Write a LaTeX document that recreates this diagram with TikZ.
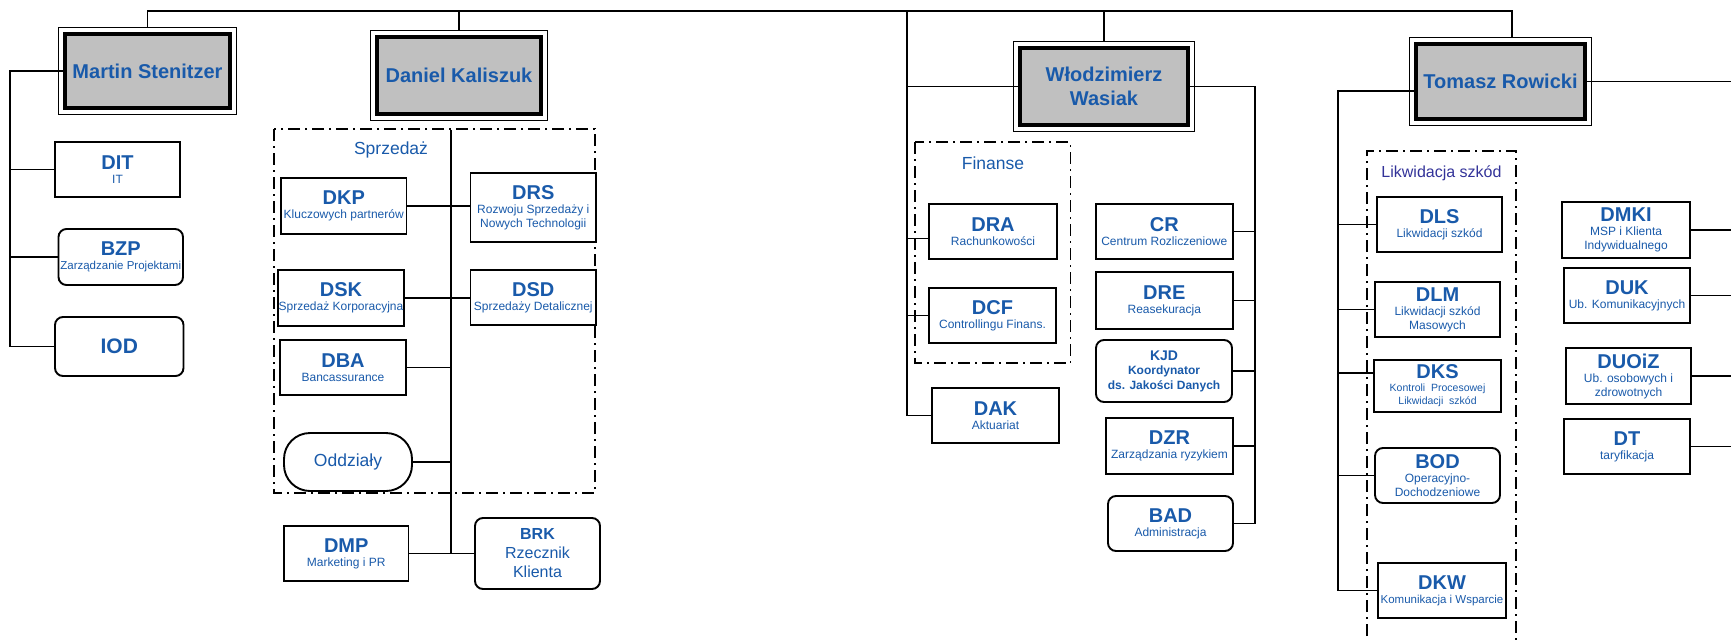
\documentclass[tikz,border=0pt]{standalone}
\usepackage{fontspec}
\setmainfont{Liberation Sans}
\definecolor{DeptBlue}{RGB}{25, 90, 170}
\definecolor{GroupPurple}{RGB}{51, 51, 153}
\definecolor{BossGray}{RGB}{192, 192, 192}
\newcommand{\FrameGap}{4.5pt}
\newcommand{\BossFont}{\fontsize{20}{24}\selectfont\bfseries}
\newcommand{\AbbrFont}{\fontsize{20}{24}\selectfont\bfseries}
\newcommand{\DescFont}{\fontsize{12}{14}\selectfont}
\newcommand{\SmallDesc}{\fontsize{11.5}{14}\selectfont}
\newcommand{\GroupFont}{\fontsize{17.5}{21}\selectfont}
\newcommand{\Dept}[2]{{\AbbrFont #1}\\#2}

\begin{document}
\begin{tikzpicture}[x=1pt, y=-1pt]
  \tikzstyle{boss}=[draw, line width=3.8pt, fill=BossGray, text=DeptBlue, font=\BossFont, align=center, inner sep=0pt]
  \tikzstyle{frame}=[line width=1.3pt]
  \tikzstyle{dept}=[draw, line width=1.9pt, fill=white, text=DeptBlue, font=\DescFont, align=center, inner sep=0pt]
  \tikzstyle{soft}=[dept, rounded corners=8pt]
  \tikzstyle{pill}=[dept, rounded corners=26pt]
  \tikzstyle{link}=[line width=1.8pt]
  \tikzstyle{group}=[line width=1.5pt, dash pattern=on 12pt off 5pt on 2pt off 5pt]
  \tikzstyle{grouplabel}=[text=DeptBlue, font=\GroupFont, inner sep=0pt]
  \useasboundingbox (0,0) rectangle (1731,640);
  \clip (0,0) rectangle (1731,640);

  % Groups
  \draw[group] (274,129) rectangle (595,493);
  \draw[group] (915,142) rectangle (1070.5,363);
  \draw[group] (1367,660) -- (1367,151) -- (1516,151) -- (1516,660);
  \node[grouplabel] (sprzedaz) at (391,149.5) {Sprzedaż};
  \node[grouplabel] (finanse) at (993,163) {Finanse};
  \node[grouplabel, text=GroupPurple, font=\fontsize{16}{19}\selectfont] (likwidacja) at (1441.5,173) {Likwidacja szkód};

  % Board
  \node[boss, minimum width=165pt, minimum height=74pt] (stenitzer) at (147.5,71) {Martin Stenitzer};
  \node[boss, minimum width=164pt, minimum height=77pt] (kaliszuk) at (459,75.5) {Daniel Kaliszuk};
  \node[boss, minimum width=168pt, minimum height=77pt] (wasiak) at (1104,86.5) {Włodzimierz\\Wasiak};
  \node[boss, minimum width=169pt, minimum height=75pt] (rowicki) at (1500.5,81.5) {Tomasz Rowicki};
  \foreach \b in {stenitzer,kaliszuk,wasiak,rowicki}
    \draw[frame] ([shift={(-\FrameGap,\FrameGap)}]\b.north west) rectangle ([shift={(\FrameGap,-\FrameGap)}]\b.south east);

  % Martin Stenitzer
  \node[dept, minimum width=125pt, minimum height=55pt] (dit) at (117.5,169.5) {\Dept{DIT}{IT}};
  \node[soft, minimum width=124.5pt, minimum height=56pt] (bzp) at (120.75,257) {\Dept{BZP}{\SmallDesc Zarządzanie Projektami}};
  \node[soft, minimum width=128.5pt, minimum height=59pt, font=\fontsize{21}{24}\selectfont\bfseries] (iod) at (119.25,346.5) {IOD};

  % Daniel Kaliszuk
  \node[dept, minimum width=125.5pt, minimum height=56pt] (dkp) at (343.75,206) {\Dept{DKP}{Kluczowych partnerów}};
  \node[dept, minimum width=125.5pt, minimum height=69pt] (drs) at (533.25,207.5) {\Dept{DRS}{Rozwoju Sprzedaży i\\Nowych Technologii}};
  \node[dept, minimum width=126pt, minimum height=56pt] (dsk) at (341,298) {\Dept{DSK}{Sprzedaż Korporacyjna}};
  \node[dept, minimum width=125.5pt, minimum height=55pt] (dsd) at (533.25,297.5) {\Dept{DSD}{Sprzedaży Detalicznej}};
  \node[dept, minimum width=126pt, minimum height=55pt] (dba) at (343,367.5) {\Dept{DBA}{Bancassurance}};
  \node[pill, minimum width=128pt, minimum height=58pt, font=\GroupFont] (oddzialy) at (348,462) {Oddziały};
  \node[dept, minimum width=124.5pt, minimum height=55pt] (dmp) at (346.25,553.5) {\Dept{DMP}{Marketing i PR}};
  \node[soft, minimum width=125pt, minimum height=71pt, font=\fontsize{16}{19}\selectfont] (brk) at (537.5,553.5) {{\bfseries BRK}\\Rzecznik\\Klienta};

  % Wlodzimierz Wasiak
  \node[dept, minimum width=128pt, minimum height=55pt] (dra) at (993,231.5) {\Dept{DRA}{Rachunkowości}};
  \node[dept, minimum width=127pt, minimum height=55pt] (dcf) at (992.5,315.5) {\Dept{DCF}{Controllingu Finans.}};
  \node[dept, minimum width=127pt, minimum height=55pt] (dak) at (995.5,415.5) {\Dept{DAK}{Aktuariat}};
  \node[dept, minimum width=136.5pt, minimum height=55pt] (cr) at (1164.3,231.5) {\Dept{CR}{Centrum Rozliczeniowe}};
  \node[dept, minimum width=136.5pt, minimum height=57pt] (dre) at (1164.3,300.5) {\Dept{DRE}{Reasekuracja}};
  \node[soft, minimum width=136pt, minimum height=62pt, font=\fontsize{12}{14.5}\selectfont\bfseries] (kjd) at (1164,371) {{\fontsize{14}{16}\selectfont KJD}\\Koordynator\\ds. Jakości Danych};
  \node[dept, minimum width=127pt, minimum height=56pt] (dzr) at (1169.5,446) {\Dept{DZR}{Zarządzania ryzykiem}};
  \node[soft, minimum width=125pt, minimum height=55pt] (bad) at (1170.5,523.5) {\Dept{BAD}{Administracja}};

  % Tomasz Rowicki
  \node[dept, minimum width=125pt, minimum height=55pt] (dls) at (1439.5,224.5) {\Dept{DLS}{Likwidacji szkód}};
  \node[dept, minimum width=125pt, minimum height=55pt] (dlm) at (1437.5,309.5) {\Dept{DLM}{Likwidacji szkód\\Masowych}};
  \node[dept, minimum width=127pt, minimum height=52pt, font=\fontsize{10.5}{13}\selectfont] (dks) at (1437.5,386) {\Dept{DKS}{Kontroli~ Procesowej\\Likwidacji~ szkód}};
  \node[soft, minimum width=125pt, minimum height=55pt] (bod) at (1437.5,475.5) {\Dept{BOD}{Operacyjno-\\Dochodzeniowe}};
  \node[dept, minimum width=128pt, minimum height=55pt] (dkw) at (1442,590.5) {\Dept{DKW}{\SmallDesc Komunikacja i Wsparcie}};
  \node[dept, minimum width=128pt, minimum height=56pt] (dmki) at (1626,230) {\Dept{DMKI}{MSP i Klienta\\Indywidualnego}};
  \node[dept, minimum width=126pt, minimum height=55pt] (duk) at (1627,295.5) {\Dept{DUK}{Ub. Komunikacyjnych}};
  \node[dept, minimum width=125pt, minimum height=56pt] (duoiz) at (1628.5,376) {\Dept{DUOiZ}{Ub. osobowych i\\zdrowotnych}};
  \node[dept, minimum width=126pt, minimum height=55pt] (dt) at (1627,446.5) {\Dept{DT}{taryfikacja}};

  % Top line
  \coordinate (top) at (0,11);
  \draw[link] ([yshift=\FrameGap]stenitzer.north) -- (stenitzer.north |- top) -| ([xshift=11.5pt,yshift=\FrameGap]rowicki.north);
  \draw[link] ([yshift=\FrameGap]kaliszuk.north) -- (kaliszuk.north |- top);
  \draw[link] ([yshift=\FrameGap]wasiak.north) -- (wasiak.north |- top);

  % Lines of Martin Stenitzer
  \coordinate (ms) at (10,0);
  \draw[link] (stenitzer.west) -| (ms |- iod.west) -- (iod.west);
  \foreach \d in {dit,bzp}
    \draw[link] (\d.west) -- (\d.west -| ms);

  % Lines of Daniel Kaliszuk
  \coordinate (ks) at (451,130);
  \draw[link] (ks) -- (ks |- dmp.east);
  \draw[link] (dkp.east) -- (dkp.east -| drs.west);
  \draw[link] (dsk.east) -- (dsk.east -| dsd.west);
  \draw[link] (dmp.east) -- (dmp.east -| brk.west);
  \foreach \d in {dba,oddzialy}
    \draw[link] (\d.east) -- (\d.east -| ks);

  % Lines of Wlodzimierz Wasiak
  \coordinate (ws) at (907,0);
  \coordinate (wr) at (1255,0);
  \draw[link] (ws |- top) -- (ws |- dak.west) -- (dak.west);
  \draw[link] (wasiak.west) -- (wasiak.west -| ws);
  \draw[link] ([yshift=-7pt]dra.west) -- ([yshift=-7pt]dra.west -| ws);
  \draw[link] (dcf.west) -- (dcf.west -| ws);
  \draw[link] (wasiak.east) -| (wr |- bad.east) -- (bad.east);
  \foreach \d in {cr,dre,kjd,dzr}
    \draw[link] (\d.east) -- (\d.east -| wr);

  % Lines of Tomasz Rowicki
  \coordinate (rs) at (1338,0);
  \coordinate (edge) at (1731,0);
  \draw[link] ([yshift=-9.5pt]rowicki.west) -| (rs |- dkw.west) -- (dkw.west);
  \foreach \d in {dls,dlm,bod}
    \draw[link] (\d.west) -- (\d.west -| rs);
  \draw[link] ([yshift=13pt]dks.west) -- ([yshift=13pt]dks.west -| rs);
  \foreach \d in {rowicki,dmki,duk,duoiz,dt}
    \draw[link] (\d.east) -- (\d.east -| edge);
\end{tikzpicture}
\end{document}
